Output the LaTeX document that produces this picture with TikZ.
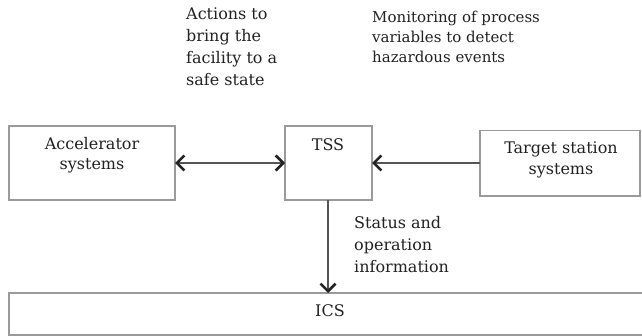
\documentclass[tikz,border=0pt]{standalone}
\usepackage{fontspec}
\setmainfont{DejaVu Serif}
\usetikzlibrary{arrows.meta}
\definecolor{boxline}{HTML}{9A9A9A}
\definecolor{txt}{HTML}{222222}
\definecolor{arr}{HTML}{555555}
\begin{document}
\begin{tikzpicture}[x=1pt,y=-1pt,
  box/.style={draw=boxline, line width=1.3pt, fill=white},
  lbl/.style={text=txt, font=\fontsize{16}{20.5}\selectfont, align=center, inner sep=0pt},
  side/.style={text=txt, font=\fontsize{16}{22}\selectfont, align=left, inner sep=0pt, anchor=north west},
  note/.style={text=txt, font=\fontsize{15}{20}\selectfont, align=left, inner sep=0pt, anchor=north west},
  conn/.style={draw=arr, line width=1.4pt},
  barb/.tip={Straight Barb[length=7.5pt,width=15pt,line width=2.6pt,color=txt]},
  tip/.style={-barb}
]
\useasboundingbox (0,0) rectangle (642,336);
\fill[white] (0,0) rectangle (642,336);
% boxes
\draw[box] (9,126) rectangle (175,200);
\coordinate (accE) at (175,163);
\draw[box] (285,126) rectangle (372,200);
\coordinate (tssW) at (285,163);
\coordinate (tssE) at (372,163);
\coordinate (tssS) at (328,200);
\draw[box] (480,130.5) rectangle (640,196);
\coordinate (tgtW) at (480,163);
\draw[box] (9,293) rectangle (645,335);
\coordinate (icsN) at (328,293);
% labels
\node[lbl] (acc) at (92,155) {Accelerator\\systems};
\node[lbl] (tss) at (328,145) {TSS};
\node[lbl] (tgt) at (561,160) {Target station\\systems};
\node[lbl] (ics) at (330,311) {ICS};
% connectors
\draw[conn, barb-barb] (accE) -- (tssW);
\draw[conn, tip] (tgtW) -- (tssE);
\draw[conn, tip] (tssS) -- (icsN);
% annotations
\node[side] (act) at (186,8) {Actions to\\bring the\\facility to a\\safe state};
\node[note] (mon) at (372,11) {Monitoring of process\\variables to detect\\hazardous events};
\node[side] (sta) at (354,216) {Status and\\operation\\information};
\end{tikzpicture}
\end{document}
